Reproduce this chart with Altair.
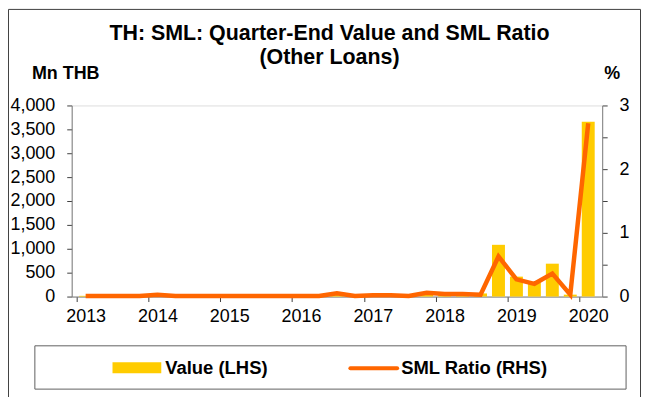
import altair as alt
import pandas as pd

# ---- data ----
quarters = [
    "2013Q1", "2013Q2", "2013Q3", "2013Q4",
    "2014Q1", "2014Q2", "2014Q3", "2014Q4",
    "2015Q1", "2015Q2", "2015Q3", "2015Q4",
    "2016Q1", "2016Q2", "2016Q3", "2016Q4",
    "2017Q1", "2017Q2", "2017Q3", "2017Q4",
    "2018Q1", "2018Q2", "2018Q3", "2018Q4",
    "2019Q1", "2019Q2", "2019Q3", "2019Q4",
    "2020Q1",
]
value_mn_thb = [
    15, 10, 10, 10,
    40, 10, 10, 10,
    10, 10, 10, 10,
    10, 10, 70, 10,
    25, 25, 15, 90,
    50, 50, 65, 1083,
    417, 292, 688, 40,
    3660,
]
sml_ratio = [
    0.01, 0.01, 0.01, 0.01,
    0.03, 0.01, 0.01, 0.01,
    0.01, 0.01, 0.01, 0.01,
    0.01, 0.01, 0.05, 0.01,
    0.02, 0.02, 0.01, 0.06,
    0.04, 0.04, 0.03, 0.63,
    0.27, 0.20, 0.36, 0.03,
    2.72,
]
year_labels = ["2013", "2014", "2015", "2016", "2017", "2018", "2019", "2020"]
title_lines = ["TH: SML: Quarter-End Value and SML Ratio", "(Other Loans)"]
left_unit = "Mn THB"
right_unit = "%"
legend_labels = ["Value (LHS)", "SML Ratio (RHS)"]

BAR_COLOR = "#FFCC00"
LINE_COLOR = "#FF6600"
FONT = "Liberation Sans"

df = pd.DataFrame({
    "quarter": quarters,
    "pos": [i + 0.5 for i in range(len(quarters))],
    "value": value_mn_thb,
    "ratio": sml_ratio,
})

W, H = 533, 192

label_arr = "[" + ",".join("'%s'" % y for y in year_labels) + "]"
x_enc = alt.X(
    "pos:Q",
    scale=alt.Scale(domain=[0, len(quarters)], nice=False, zero=False),
    axis=alt.Axis(
        values=[4 * i for i in range(len(year_labels))],
        labelExpr=label_arr + "[round(datum.value/4)]",
        title=None, grid=False, tickSize=5, labelOffset=9, labelPadding=6,
        domainColor="#808080", tickColor="#404040", labelColor="black",
        labelFontSize=18, labelFont=FONT, labelBound=False, labelOverlap=False,
    ),
)

bars = alt.Chart(df).mark_bar(width=13, color=BAR_COLOR).encode(
    x=x_enc,
    y=alt.Y(
        "value:Q",
        scale=alt.Scale(domain=[0, 4000], nice=False),
        axis=alt.Axis(
            orient="left", values=list(range(0, 4001, 500)), format=",.0f",
            title=None, grid=False, tickSize=5, labelPadding=12,
            domainColor="#808080", tickColor="#404040", labelColor="black",
            labelFontSize=18, labelFont=FONT,
        ),
    ),
)

line = alt.Chart(df).mark_line(color=LINE_COLOR, strokeWidth=4.5).encode(
    x=x_enc,
    y=alt.Y(
        "ratio:Q",
        scale=alt.Scale(domain=[0, 3], nice=False),
        axis=alt.Axis(
            orient="right", values=[0, 0.5, 1, 1.5, 2, 2.5, 3],
            labelExpr="datum.value % 1 == 0 ? format(datum.value, 'd') : ''",
            title=None, grid=False, tickSize=5, labelPadding=12,
            domainColor="#808080", tickColor="#404040", labelColor="black",
            labelFontSize=18, labelFont=FONT,
        ),
    ),
)

one = alt.Data(values=[{"a": 1}])


def txt(s, x, y, size, align="center", weight="bold"):
    return alt.Chart(one).mark_text(
        text=s, font=FONT, fontSize=size, fontWeight=weight, align=align,
        baseline="middle", color="black",
    ).encode(x=alt.value(x), y=alt.value(y))


title1 = txt(title_lines[0], 259, -72, 21.5)
title2 = txt(title_lines[1], 259, -48, 21.5)
unit_l = txt(left_unit, -6, -32, 18)
unit_r = txt(right_unit, 543, -32, 18)

legend_box = alt.Chart(one).mark_rect(fill="white", stroke="#606060", strokeWidth=1).encode(
    x=alt.value(-37), x2=alt.value(557), y=alt.value(241.5), y2=alt.value(285)
)
swatch = alt.Chart(one).mark_rect(fill=BAR_COLOR).encode(
    x=alt.value(41), x2=alt.value(90), y=alt.value(258), y2=alt.value(269)
)
line_swatch = alt.Chart(one).mark_rule(color=LINE_COLOR, strokeWidth=4, strokeCap="round").encode(
    x=alt.value(280), x2=alt.value(327), y=alt.value(264)
)
leg1 = txt(legend_labels[0], 94, 264, 18.5, align="left")
leg2 = txt(legend_labels[1], 331, 264, 18.5, align="left")

border_col = "#404040"
border_l = alt.Chart(one).mark_rule(color=border_col, strokeWidth=1).encode(
    x=alt.value(-63.5), y=alt.value(-96.5), y2=alt.value(300)
)
border_t = alt.Chart(one).mark_rule(color=border_col, strokeWidth=1).encode(
    x=alt.value(-63.5), x2=alt.value(571.5), y=alt.value(-96.5)
)
border_r = alt.Chart(one).mark_rule(color=border_col, strokeWidth=1).encode(
    x=alt.value(571.5), y=alt.value(-96.5), y2=alt.value(300)
)

chart = alt.layer(
    border_l, border_t, border_r,
    bars, line,
    title1, title2, unit_l, unit_r,
    legend_box, swatch, line_swatch, leg1, leg2,
).resolve_scale(y="independent").properties(
    width=W, height=H,
    padding={"left": 64, "top": 97, "right": 39, "bottom": 100},
    autosize=alt.AutoSizeParams(type="none"),
).configure_view(stroke=None).configure(font=FONT)

chart.save("out.html", embed_options={"renderer": "svg", "actions": False})
